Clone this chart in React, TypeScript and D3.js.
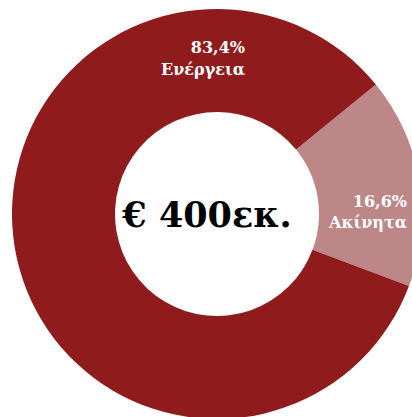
import React from "react";
import * as d3 from "d3";

const categories = ["Ακίνητα", "Ενέργεια"];
const values = [16.6, 83.4];
const valueLabels = ["16,6%", "83,4%"];
const colors = ["#bd8687", "#8f1b1d"];
const centerLabel = "€ 400εκ.";

export default function App() {
  const W = 412, H = 417;
  const cx = 217, cy = 214, outer = 205, inner = 102;
  const start = (50.8 * Math.PI) / 180;
  const pie = d3.pie<number>().sort(null).startAngle(start).endAngle(start + 2 * Math.PI);
  const arcs = pie(values);
  const arc = d3.arc<d3.PieArcDatum<number>>().innerRadius(inner).outerRadius(outer);
  const labelPos = [
    { x: 407, y1: 207, y2: 228 },
    { x: 245, y1: 53, y2: 75 },
  ];
  const font = "'DejaVu Serif', serif";
  return (
    <svg width={W} height={H} style={{ position: "absolute", left: 0, top: 0 }}>
      <g transform={`translate(${cx},${cy})`}>
        {arcs.map((a, i) => (
          <path key={i} d={arc(a) || ""} fill={colors[i]} />
        ))}
      </g>
      {categories.map((c, i) => (
        <g key={c} fill="#fff" fontFamily={font} fontWeight="bold" fontSize={16} textAnchor="end">
          <text x={labelPos[i].x} y={labelPos[i].y1}>{valueLabels[i]}</text>
          <text x={labelPos[i].x} y={labelPos[i].y2}>{c}</text>
        </g>
      ))}
      <text x={207} y={227} textAnchor="middle" fontFamily={font} fontWeight="bold" fontSize={35} fill="#000">
        {centerLabel}
      </text>
    </svg>
  );
}
